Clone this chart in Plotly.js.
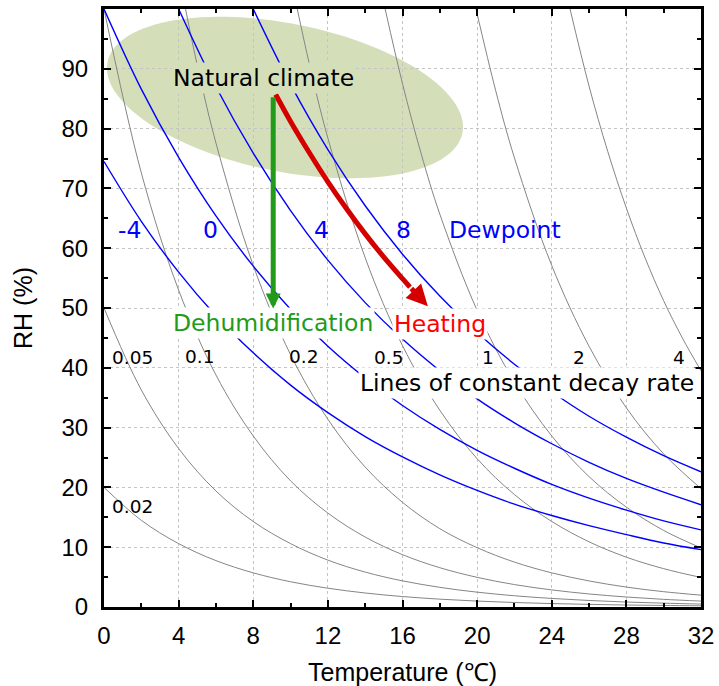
<!DOCTYPE html>
<html><head><meta charset="utf-8">
<script src="https://cdn.plot.ly/plotly-3.0.1.min.js"></script>
<style>html,body{margin:0;padding:0;background:#fff}</style>
</head><body><div id="chart" style="width:719px;height:686px"></div>
<script>
// ---------- data ----------
const tempGrid = [0,2,4,6,8,10,12,14,16,18,20,22,24,26,28,30,32];

// Dewpoint lines (blue): RH (%) against temperature
const dewLabels = ['-4','0','4','8'];
const dewTempM4 = tempGrid;
const dewRHM4   = [74.5,64.5,56.0,48.7,42.5,37.1,32.5,28.5,25.1,22.1,19.5,17.2,15.3,13.6,12.1,10.7,9.6];
const dewTemp0  = tempGrid;
const dewRH0    = [100,86.6,75.2,65.4,57.0,49.8,43.6,38.3,33.7,29.7,26.2,23.2,20.5,18.2,16.2,14.4,12.9];
const dewTemp4  = [4,6,8,10,12,14,16,18,20,22,24,26,28,30,32];
const dewRH4    = [100,87.0,75.9,66.3,58.0,50.9,44.8,39.5,34.8,30.8,27.3,24.2,21.5,19.2,17.1];
const dewTemp8  = [8,10,12,14,16,18,20,22,24,26,28,30,32];
const dewRH8    = [100,87.4,76.5,67.1,59.0,52.0,45.9,40.6,36.0,31.9,28.4,25.3,22.6];

// Lines of constant decay rate (grey)
const rateLabels = ['0.02','0.05','0.1','0.2','0.5','1','2','4'];
const rateTemp002 = tempGrid;
const rateRH002   = [20.0,14.5,10.6,7.76,5.71,4.22,3.14,2.34,1.75,1.31,0.99,0.75,0.57,0.44,0.33,0.26,0.20];
const rateTemp005 = tempGrid;
const rateRH005   = [50.0,36.3,26.5,19.4,14.3,10.6,7.84,5.84,4.37,3.29,2.48,1.88,1.43,1.09,0.83,0.64,0.49];
const rateTemp01  = tempGrid;
const rateRH01    = [100,72.6,53.0,38.8,28.6,21.1,15.7,11.7,8.75,6.57,4.96,3.75,2.86,2.18,1.67,1.28,0.99];
const rateTemp02  = [4.37,5,6,8,10,12,14,16,18,20,22,24,26,28,30,32];
const rateRH02    = [100,90.6,77.6,57.1,42.2,31.4,23.4,17.5,13.1,9.92,7.51,5.71,4.36,3.33,2.56,1.98];
const rateTemp05  = [10.36,11,12,14,16,18,20,22,24,26,28,30,32];
const rateRH05    = [100,90.9,78.4,58.4,43.7,32.9,24.8,18.8,14.3,10.9,8.33,6.41,4.94];
const rateTemp1   = [15.07,16,17,18,20,22,24,26,28,30,32];
const rateRH1     = [100,87.5,75.8,65.7,49.6,37.6,28.6,21.8,16.7,12.8,9.88];
const rateTemp2   = [19.94,21,22,24,26,28,30,32];
const rateRH2     = [100,86.3,75.1,57.1,43.6,33.3,25.6,19.8];
const rateTemp4   = [24.98,26,27,28,29,30,31,32];
const rateRH4     = [100,87.1,76.2,66.7,58.4,51.2,45.0,39.5];

// Heating path (constant dewpoint) and dehumidification path
const heatTemp = [9.2,10,11,12,13,14,15,16,16.4];
const heatRH   = [85.7,81.2,76.0,71.1,66.6,62.4,58.5,54.9,53.5];
const heatTip  = [17.36,50.3];
const dehumTemp = [9.07,9.07];
const dehumRH   = [85.5,49.9];

// Axis ticks
const xTicks = [0,4,8,12,16,20,24,28,32];
const yTicks = [0,10,20,30,40,50,60,70,80,90];

// ---------- layout geometry ----------
const W = 719, H = 686;
const M = {l:104, r:18, t:9, b:79};
const plotW = W - M.l - M.r, plotH = H - M.t - M.b;
const kx = plotW / 32, ky = plotH / 100;

const BLUE = '#0000ff', GREY = '#858585', GREEN = '#229a1a', RED = '#d40000';
const LFONT = 'DejaVu Sans';
const AFONT = 'Liberation Sans, Arial, sans-serif';
const BIG = 23.5, SMALL = 18.5;

function line(x, y, color, width) {
  return {x: x, y: y, type: 'scatter', mode: 'lines',
          line: {color: color, width: width, shape: 'spline', smoothing: 1},
          hoverinfo: 'skip', showlegend: false, cliponaxis: true};
}

const traces = [
  line(rateTemp002, rateRH002, GREY, 1),
  line(rateTemp005, rateRH005, GREY, 1),
  line(rateTemp01,  rateRH01,  GREY, 1),
  line(rateTemp02,  rateRH02,  GREY, 1),
  line(rateTemp05,  rateRH05,  GREY, 1),
  line(rateTemp1,   rateRH1,   GREY, 1),
  line(rateTemp2,   rateRH2,   GREY, 1),
  line(rateTemp4,   rateRH4,   GREY, 1),
  line(dewTempM4, dewRHM4, BLUE, 1.4),
  line(dewTemp0,  dewRH0,  BLUE, 1.4),
  line(dewTemp4,  dewRH4,  BLUE, 1.4),
  line(dewTemp8,  dewRH8,  BLUE, 1.4),
  line(heatTemp, heatRH, RED, 5)
];

// ---------- ellipse (natural climate zone) ----------
const ell = {cx: 9.70, cy: 85.2, a: 181, b: 74, angleDeg: 11.3};
const th = ell.angleDeg * Math.PI / 180;
const ellPts = [];
for (let i = 0; i < 120; i++) {
  const t = i / 120 * 2 * Math.PI;
  const dx = ell.a * Math.cos(t) * Math.cos(th) - ell.b * Math.sin(t) * Math.sin(th);
  const dy = ell.a * Math.cos(t) * Math.sin(th) + ell.b * Math.sin(t) * Math.cos(th);
  ellPts.push((ell.cx + dx / kx).toFixed(4) + ',' + (ell.cy - dy / ky).toFixed(4));
}
const ellPath = 'M ' + ellPts.join(' L ') + ' Z';

// ---------- labels ----------
const ELLCOL = 'rgb(212,223,186)';
function lab(text, x, y, color, size, bg) {
  const a = {text: text, x: x, y: y, xref: 'x', yref: 'y', showarrow: false,
             xanchor: 'center', yanchor: 'middle',
             font: {family: LFONT, size: size, color: color}};
  if (bg) { a.bgcolor = bg; a.borderpad = 1; }
  return a;
}
const annotations = [
  lab('Natural climate', 8.55, 88.5, '#000', BIG, ELLCOL),
  lab(dewLabels[0], 1.34, 63.0, BLUE, BIG),
  lab(dewLabels[1], 5.71, 63.0, BLUE, BIG),
  lab(dewLabels[2], 11.64, 63.0, BLUE, BIG),
  lab(dewLabels[3], 16.03, 63.0, BLUE, BIG),
  lab('Dewpoint', 21.47, 63.0, BLUE, BIG),
  lab('Dehumidification', 9.06, 47.5, GREEN, BIG, '#fff'),
  lab('Heating', 18.02, 47.3, '#ff0000', BIG, '#fff'),
  lab('Lines of constant decay rate', 22.65, 37.4, '#000', BIG, '#fff'),
  lab(rateLabels[1], 1.53, 41.8, '#000', SMALL),
  lab(rateLabels[2], 5.12, 41.9, '#000', SMALL),
  lab(rateLabels[3], 10.70, 41.9, '#000', SMALL),
  lab(rateLabels[4], 15.25, 41.8, '#000', SMALL),
  lab(rateLabels[5], 20.59, 41.8, '#000', SMALL),
  lab(rateLabels[6], 25.44, 41.8, '#000', SMALL),
  lab(rateLabels[7], 30.80, 41.8, '#000', SMALL),
  lab(rateLabels[0], 1.53, 16.8, '#000', SMALL),
  // arrows
  {x: dehumTemp[1], y: dehumRH[1], ax: dehumTemp[0], ay: dehumRH[0], xref: 'x', yref: 'y',
   axref: 'x', ayref: 'y', text: '', showarrow: true, arrowhead: 2, arrowsize: 0.6,
   arrowwidth: 5, arrowcolor: GREEN},
  {x: heatTip[0], y: heatTip[1], ax: heatTemp[heatTemp.length-1], ay: heatRH[heatRH.length-1],
   xref: 'x', yref: 'y', axref: 'x', ayref: 'y', text: '', showarrow: true, arrowhead: 2,
   arrowsize: 0.85, arrowwidth: 5, arrowcolor: RED}
];

const axisCommon = {
  showline: true, linecolor: '#000', linewidth: 3, mirror: 'allticks',
  ticks: 'inside', ticklen: 7, tickwidth: 2, tickcolor: '#000',
  showgrid: true, gridcolor: '#c4c4c4', gridwidth: 1, griddash: 'dot',
  zeroline: false, fixedrange: true,
  tickfont: {family: AFONT, size: 24, color: '#000'}
};

const layout = {
  width: W, height: H, margin: M,
  paper_bgcolor: '#fff', plot_bgcolor: '#fff', showlegend: false,
  xaxis: Object.assign({}, axisCommon, {
    range: [0, 32], tickmode: 'array', tickvals: xTicks, ticklabelstandoff: 5,
    minor: {tickmode: 'linear', tick0: 0, dtick: 2, ticks: 'inside', ticklen: 4, tickwidth: 2, tickcolor: '#000', showgrid: false},
    title: {text: 'Temperature (℃)', font: {family: AFONT, size: 25, color: '#000'}, standoff: 20}
  }),
  yaxis: Object.assign({}, axisCommon, {
    range: [0, 100], tickmode: 'array', tickvals: yTicks, ticklabelstandoff: 8,
    minor: {tickmode: 'linear', tick0: 0, dtick: 5, ticks: 'inside', ticklen: 4, tickwidth: 2, tickcolor: '#000', showgrid: false},
    title: {text: 'RH (%)', font: {family: AFONT, size: 25, color: '#000'}, standoff: 22}
  }),
  shapes: [{type: 'path', path: ellPath, xref: 'x', yref: 'y', fillcolor: ELLCOL,
            line: {width: 0}, layer: 'below'}],
  annotations: annotations
};

Plotly.newPlot('chart', traces, layout, {staticPlot: true, displayModeBar: false});
</script>
</body></html>
